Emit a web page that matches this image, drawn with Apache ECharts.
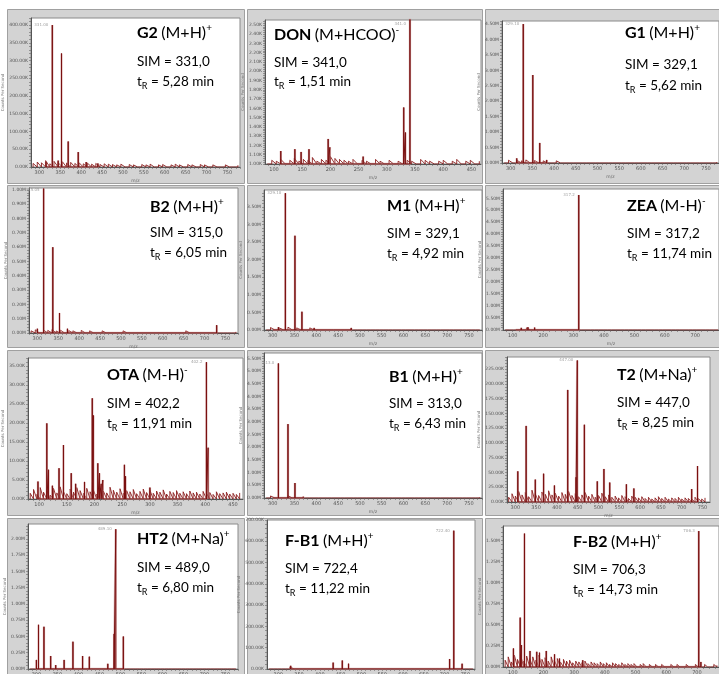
<!DOCTYPE html>
<html><head><meta charset="utf-8">
<script src="https://cdn.jsdelivr.net/npm/echarts@6/dist/echarts.min.js"></script>
<style>html,body{margin:0;padding:0;background:#fff}#c{width:719px;height:674px}</style>
</head><body><div id="c"></div><script>
// ---------------- DATA ----------------
const compoundNames = ['G2','DON','G1','B2','M1','ZEA','OTA','B1','T2','HT2','F-B1','F-B2'];
const adductIons = ['(M+H)','(M+HCOO)','(M+H)','(M+H)','(M+H)','(M-H)','(M-H)','(M+H)','(M+Na)','(M+Na)','(M+H)','(M+H)'];
const ionCharges = ['+','-','+','+','+','-','-','+','+','+','+','+'];
const simMasses = ['331,0','341,0','329,1','315,0','329,1','317,2','402,2','313,0','447,0','489,0','722,4','706,3'];
const retentionTimes = ['5,28','1,51','5,62','6,05','4,92','11,74','11,91','6,43','8,25','6,80','11,22','14,73'];
const peakTags = ['331.00','341.0','329.10','315.05','329.10','317.2','402.2','313.0','447.00','489.10','722.40','706.3'];
const intensityUnits = ['K','K','M','M','M','M','K','M','K','M','K','M'];

// m/z tick labels
const xTicks300to750 = [300,350,400,450,500,550,600,650,700,750];
const xTicks100to450 = [100,150,200,250,300,350,400,450];
const xTicks100to700 = [100,200,300,400,500,600,700];

// intensity tick labels
const g2YTicks = [0,50,100,150,200,250,300,350,400];
const donYTicks = [1.0,1.1,1.2,1.3,1.4,1.5,1.6,1.7,1.8,1.9,2.0,2.1,2.2,2.3,2.4,2.5];
const g1YTicks = [0,0.5,1.0,1.5,2.0,2.5,3.0,3.5,4.0,4.5];
const b2YTicks = [0,0.1,0.2,0.3,0.4,0.5,0.6,0.7,0.8,0.9,1.0];
const m1YTicks = [0,0.5,1.0,1.5,2.0,2.5,3.0,3.5];
const zeaYTicks = [0,0.5,1.0,1.5,2.0,2.5,3.0,3.5,4.0,4.5,5.0,5.5];
const otaYTicks = [0,5,10,15,20,25,30,35];
const b1YTicks = [0,0.5,1.0,1.5,2.0,2.5,3.0,3.5,4.0,4.5,5.0,5.5];
const t2YTicks = [0,25,50,75,100,125,150,175,200,225];
const ht2YTicks = [0,0.25,0.5,0.75,1.0,1.25,1.5,1.75,2.0];
const fb1YTicks = [0,100,200,300,400,500,600,700];
const fb2YTicks = [0,0.25,0.5,0.75,1.0,1.25,1.5];

// main peaks (m/z and intensity in panel unit)
const g2PeakMz = [316,331,345,353,369,393,412,440];
const g2PeakInt = [14,400,18,320,72,42,14,10];
const donPeakMz = [112,137,148,162,196,199,258,330,333,341];
const donPeakInt = [1.14,1.16,1.13,1.16,1.27,1.18,1.08,1.61,1.34,2.6];
const g1PeakMz = [314,329,351,367,383];
const g1PeakInt = [0.15,4.5,2.85,0.65,0.1];
const b2PeakMz = [300,315,337,353,372,729];
const b2PeakInt = [0.03,1.01,0.60,0.14,0.03,0.055];
const m1PeakMz = [300,313,329,351,367,395,440,480];
const m1PeakInt = [0.05,0.08,3.89,2.68,0.52,0.06,0.05,0.06];
const zeaPeakMz = [110,128,150,172,317];
const zeaPeakInt = [0.08,0.09,0.12,0.10,5.64];
const otaPeakMz = [98,114,117,124,136,144,158,166,182,196,198,206,209,212,215,254,256,300,402,405];
const otaPeakInt = [4.6,19.9,7.7,3.5,8.1,14.2,6.8,4,4.5,26.5,22,9.4,6.8,4,5,9,6,3,36,13.5];
const b1PeakMz = [300,313,335,351,370];
const b1PeakInt = [0.05,5.3,2.91,0.59,0.06];
const t2PeakMz = [306,326,348,368,394,426,446,449,466,497,513,527,567,585,724,738];
const t2PeakInt = [52,129,38,48,28,190,42,240,131,35,56,33,30,23,22,61];
const ht2PeakMz = [300,305,318,334,346,366,387,410,426,470,485,489,507];
const ht2PeakInt = [0.14,0.68,0.65,0.20,0.06,0.14,0.42,0.20,0.19,0.08,0.54,2.15,0.50];
const fb1PeakMz = [330,432,454,469,712,722,742];
const fb1PeakInt = [15,30,40,25,47,650,25];
const fb2PeakMz = [102,124,128,138,156,178,187,209,236,252,328,706,713];
const fb2PeakInt = [0.22,0.585,0.26,1.58,0.19,0.18,0.17,0.19,0.15,0.10,0.08,1.61,0.06];

// baseline noise, read as heights at regularly spaced m/z
const noiseStartMz = [285,88,285,285,285,75,84,285,284,285,278,75];
const noiseStepMz = [10,8,10,10,10,14,6,10,8,10,10,10];
const g2Noise = [10,14,12,18,9,16,12,15,11,13,10,12,9,11,8,10,7,9,8,7,6,8,5,7,6,5,7,6,8,5,6,7,5,6,8,6,5,7,6,5,7,6,5,6,4,5,6,5,4,5];
const donNoise = [1.02,1.04,1.03,1.05,1.02,1.04,1.06,1.03,1.05,1.04,1.07,1.03,1.05,1.04,1.08,1.06,1.05,1.04,1.03,1.05,1.02,1.04,1.03,1.02,1.05,1.03,1.02,1.04,1.02,1.03,1.02,1.04,1.03,1.02,1.05,1.04,1.03,1.02,1.03,1.04,1.02,1.03,1.05,1.02,1.03,1.04,1.02,1.03];
const g1Noise = [0.06,0.09,0.05,0.08,0.07,0.10,0.06,0.08,0.05,0.07,0.06,0.05,0.07,0.04,0.06,0.05,0.04,0.06,0.05,0.04,0.05,0.04,0.06,0.03,0.05,0.04,0.05,0.03,0.04,0.05,0.04,0.03,0.05,0.04,0.03,0.05,0.04,0.06,0.04,0.03,0.05,0.04,0.03,0.04,0.05,0.03,0.04,0.03,0.04,0.03];
const b2Noise = [0.015,0.022,0.012,0.02,0.018,0.025,0.014,0.02,0.012,0.017,0.015,0.012,0.018,0.01,0.015,0.012,0.01,0.015,0.012,0.01,0.012,0.01,0.015,0.008,0.012,0.01,0.012,0.008,0.01,0.012,0.01,0.008,0.012,0.01,0.008,0.012,0.01,0.015,0.01,0.008,0.012,0.01,0.008,0.01,0.012,0.008,0.01,0.008,0.01,0.008];
const m1Noise = [0.05,0.07,0.04,0.06,0.05,0.08,0.04,0.06,0.05,0.04,0.06,0.03,0.05,0.04,0.03,0.05,0.04,0.03,0.05,0.03,0.04,0.03,0.05,0.02,0.04,0.03,0.04,0.02,0.03,0.04,0.03,0.02,0.04,0.03,0.02,0.04,0.03,0.05,0.03,0.02,0.04,0.03,0.02,0.03,0.04,0.02,0.03,0.02,0.03,0.02];
const zeaNoise = [0.03,0.05,0.04,0.08,0.05,0.09,0.04,0.07,0.05,0.06,0.04,0.05,0.03,0.04,0.03,0.05,0.02,0.04,0.03,0.02,0.04,0.03,0.02,0.03,0.04,0.02,0.03,0.02,0.03,0.02,0.04,0.02,0.03,0.02,0.03,0.02,0.02,0.03,0.02,0.04,0.02,0.03,0.02,0.02,0.03,0.02,0.03,0.02,0.02,0.03,0.02];
const otaNoise = [1.5,2.5,1.2,3.0,1.8,2.2,1.0,2.8,1.6,3.2,2.0,1.4,2.6,1.8,3.0,2.2,1.5,2.8,1.9,2.4,1.3,2.9,2.1,1.6,3.1,2.3,1.8,2.7,1.5,2.2,1.9,2.5,1.4,2.0,2.6,1.7,2.3,1.5,2.1,1.8,2.4,1.3,2.0,1.7,2.2,1.5,1.9,1.4,2.1,1.6,1.8,1.3,2.0,1.5,1.7,1.2,1.9,1.4,1.6,1.8,1.3,1.5,1.2,1.6];
const b1Noise = [0.06,0.08,0.05,0.07,0.06,0.09,0.05,0.07,0.06,0.05,0.07,0.04,0.06,0.05,0.04,0.06,0.05,0.04,0.06,0.04,0.05,0.04,0.06,0.03,0.05,0.04,0.05,0.03,0.04,0.05,0.04,0.03,0.05,0.04,0.03,0.05,0.04,0.06,0.04,0.03,0.05,0.04,0.03,0.04,0.05,0.03,0.04,0.03,0.04,0.03];
const t2Noise = [8,14,10,18,12,16,9,20,14,11,17,13,19,12,15,10,16,13,18,11,14,9,12,16,10,13,8,11,15,9,12,8,10,7,11,9,6,10,8,7,9,6,8,5,7,9,6,8,5,7,6,8,5,7,6,5,8,6,5,7];
const ht2Noise = [0.02,0.03,0.015,0.025,0.02,0.03,0.018,0.025,0.02,0.015,0.022,0.012,0.02,0.015,0.012,0.02,0.015,0.01,0.018,0.012,0.015,0.01,0.018,0.008,0.012,0.01,0.015,0.008,0.01,0.012,0.01,0.008,0.012,0.01,0.008,0.012,0.01,0.015,0.01,0.008,0.012,0.01,0.008,0.01,0.012,0.008,0.01,0.008,0.01,0.008];
const fb1Noise = [6,9,5,8,7,10,6,8,5,7,6,5,7,4,6,5,4,6,5,4,5,4,6,3,5,4,5,3,4,5,4,3,5,4,3,5,4,6,4,3,5,4,3,4,5,3,4,3,4,3];
const fb2Noise = [0.08,0.12,0.06,0.14,0.09,0.15,0.07,0.13,0.1,0.12,0.08,0.14,0.09,0.11,0.07,0.12,0.08,0.1,0.06,0.09,0.07,0.08,0.05,0.07,0.06,0.05,0.07,0.04,0.06,0.05,0.04,0.06,0.04,0.05,0.03,0.05,0.04,0.03,0.05,0.03,0.04,0.03,0.04,0.02,0.03,0.04,0.02,0.03,0.02,0.03,0.02,0.03,0.02,0.02,0.03,0.02,0.03,0.02,0.02,0.03,0.02,0.02,0.03,0.02,0.02,0.03,0.02,0.02,0.03,0.02];

const peakMzLists = [g2PeakMz,donPeakMz,g1PeakMz,b2PeakMz,m1PeakMz,zeaPeakMz,otaPeakMz,b1PeakMz,t2PeakMz,ht2PeakMz,fb1PeakMz,fb2PeakMz];
const peakIntLists = [g2PeakInt,donPeakInt,g1PeakInt,b2PeakInt,m1PeakInt,zeaPeakInt,otaPeakInt,b1PeakInt,t2PeakInt,ht2PeakInt,fb1PeakInt,fb2PeakInt];
const noiseLists = [g2Noise,donNoise,g1Noise,b2Noise,m1Noise,zeaNoise,otaNoise,b1Noise,t2Noise,ht2Noise,fb1Noise,fb2Noise];
const xTickLists = [xTicks300to750,xTicks100to450,xTicks300to750,xTicks300to750,xTicks300to750,xTicks100to700,xTicks100to450,xTicks300to750,xTicks300to750,xTicks300to750,xTicks300to750,xTicks100to700];
const yTickLists = [g2YTicks,donYTicks,g1YTicks,b2YTicks,m1YTicks,zeaYTicks,otaYTicks,b1YTicks,t2YTicks,ht2YTicks,fb1YTicks,fb2YTicks];

// ---------------- LAYOUT ----------------
const layout = [
 {l:31,t:18,r:240,b:167, xMin:280,xMax:780, yMin:0,yMax:420, tx:137,ty:[33,62,82]},
 {l:265,t:20,r:481,b:164, xMin:84,xMax:467, yMin:1.0,yMax:2.553, tx:274,ty:[35,63,82]},
 {l:502,t:21,r:719,b:163, xMin:280,xMax:780, yMin:0,yMax:4.6, tx:625,ty:[33,65,86]},
 {l:29,t:188,r:238,b:333, xMin:280,xMax:780, yMin:0,yMax:1.014, tx:150,ty:[207,233,253]},
 {l:264,t:190,r:482,b:330, xMin:280,xMax:780, yMin:0,yMax:3.98, tx:387,ty:[206,234,254]},
 {l:503,t:189,r:719,b:330, xMin:68,xMax:778, yMin:0,yMax:5.89, tx:627,ty:[206,234,254]},
 {l:28,t:358,r:243,b:499, xMin:80,xMax:468, yMin:0,yMax:37.1, tx:107,ty:[375,404,424]},
 {l:264,t:353,r:482,b:498, xMin:280,xMax:780, yMin:0,yMax:5.71, tx:389,ty:[377,404,424]},
 {l:507,t:357,r:710,b:502, xMin:280,xMax:768, yMin:0,yMax:245.8, tx:617,ty:[375,403,423]},
 {l:28,t:524,r:238,b:669, xMin:280,xMax:780, yMin:0,yMax:2.23, tx:137,ty:[539,568,588]},
 {l:267,t:520,r:475,b:669, xMin:273,xMax:773, yMin:0,yMax:700, tx:285,ty:[541,569,589]},
 {l:503,t:526,r:719,b:667, xMin:68,xMax:772, yMin:0,yMax:1.67, tx:573,ty:[542,570,590]}
];
const nameX = [12,249,490];
const frameCols = [[7,244],[247,482],[485,722]];
const frameRows = [[9,183],[185,347],[350,515],[518,680]];

const FONT = 'Lato, "Open Sans", sans-serif';
const SMALLFONT = '"DejaVu Sans", sans-serif';
const RED = '#7a1010';

function subTicks(major, lo, hi, parts){
  const out = [];
  const step = (major[1]-major[0])/parts;
  let v = major[0];
  while (v - step >= lo - 1e-9) v -= step;
  for (; v <= hi + 1e-9; v += step) out.push(+v.toFixed(6));
  return out;
}

const grids=[], xAxes=[], yAxes=[], series=[], graphics=[];

frameRows.forEach(r=>frameCols.forEach(c=>{
  graphics.push({type:'rect', z:-10, shape:{x:c[0]+0.5,y:r[0]+0.5,width:c[1]-c[0],height:r[1]-r[0]},
    style:{fill:'#d3d3d3', stroke:'#a0a0a0', lineWidth:1}});
}));

layout.forEach((L,i)=>{
  const col = i%3;
  grids.push({left:L.l, top:L.t, width:L.r-L.l, height:L.b-L.t, show:true, outerBoundsMode:'none',
    backgroundColor:'#ffffff', borderColor:'#8a8a8a', borderWidth:1, containLabel:false});
  const unit = intensityUnits[i];
  xAxes.push({gridIndex:i, type:'value', min:L.xMin, max:L.xMax,
    axisLine:{show:true, onZero:false, lineStyle:{color:'#555', width:1}},
    axisTick:{show:true, customValues: subTicks(xTickLists[i], L.xMin, L.xMax, 5), length:2, lineStyle:{color:'#666', width:0.6}},
    axisLabel:{customValues: xTickLists[i], fontSize:5, color:'#555', margin:3, fontFamily:SMALLFONT},
    splitLine:{show:false},
    name:'m/z', nameLocation:'middle', nameGap:11, nameTextStyle:{fontSize:4.5, color:'#666', fontFamily:SMALLFONT}});
  yAxes.push({gridIndex:i, type:'value', min:L.yMin, max:L.yMax,
    axisLine:{show:true, lineStyle:{color:'#555', width:1}},
    axisTick:{show:true, customValues: subTicks(yTickLists[i], L.yMin, L.yMax, 5), length:2, lineStyle:{color:'#666', width:0.6}},
    axisLabel:{customValues: yTickLists[i], fontSize:4.5, color:'#555', margin:3, fontFamily:SMALLFONT,
      formatter: v => v.toFixed(2)+unit},
    splitLine:{show:false},
    name:'Counts Per Second', nameLocation:'middle', nameRotate:90, nameGap:L.l-nameX[col],
    nameTextStyle:{fontSize:4, color:'#777', fontFamily:SMALLFONT}});

  // noise trace: spikes rising from the baseline at each sampled m/z
  const noise = [];
  noiseLists[i].forEach((v,k)=>{ const mz = noiseStartMz[i]+k*noiseStepMz[i]; noise.push([mz, L.yMin],[mz, v]); });
  series.push({type:'line', xAxisIndex:i, yAxisIndex:i, data:noise, symbol:'none', silent:true,
    lineStyle:{color:'#8a1c1c', width:0.9}, z:2, animation:false});
  // stick peaks
  const sticks=[];
  peakMzLists[i].forEach((mz,k)=>{ sticks.push([mz,L.yMin],[mz,peakIntLists[i][k]],[mz,L.yMin]); });
  series.push({type:'line', xAxisIndex:i, yAxisIndex:i, data:sticks, symbol:'none', silent:true,
    lineStyle:{color:'rgba(200,140,140,0.55)', width:2.4}, z:2, animation:false});
  series.push({type:'line', xAxisIndex:i, yAxisIndex:i, data:sticks, symbol:'none', silent:true,
    lineStyle:{color:RED, width:1}, z:3, animation:false});
  // tag of the base peak
  const ints = peakIntLists[i];
  let m = 0; ints.forEach((v,k)=>{ if(v>ints[m]) m=k; });
  const tagY = Math.min(ints[m], L.yMax*0.985);
  series.push({type:'scatter', xAxisIndex:i, yAxisIndex:i, data:[[peakMzLists[i][m], tagY]], symbolSize:0, silent:true,
    label:{show:true, position:'left', distance:4, formatter:()=>peakTags[i], fontSize:4, color:'#888', fontFamily:SMALLFONT}, z:4, animation:false});

  // annotation texts
  const base = {fontFamily:FONT, color:'#111'};
  graphics.push({type:'text', x:L.tx, y:L.ty[0], z:50, style:{
    text:'{b|'+compoundNames[i]+'} {n|'+adductIons[i]+'}{sup|'+ionCharges[i]+'}',
    verticalAlign:'middle', align:'left',
    rich:{b:Object.assign({fontSize:16, fontWeight:'bold'},base), n:Object.assign({fontSize:16},base),
          sup:Object.assign({fontSize:10, padding:[0,0,11,0]},base)}}});
  graphics.push({type:'text', x:L.tx, y:L.ty[1], z:50, style:{
    text:'{n|SIM = '+simMasses[i]+'}', verticalAlign:'middle', align:'left',
    rich:{n:Object.assign({fontSize:13.5},base)}}});
  graphics.push({type:'text', x:L.tx, y:L.ty[2], z:50, style:{
    text:'{n|t}{sub|R}{n| = '+retentionTimes[i]+' min}', verticalAlign:'middle', align:'left',
    rich:{n:Object.assign({fontSize:13.5},base), sub:Object.assign({fontSize:9, padding:[8,0,0,0]},base)}}});
});

const chart = echarts.init(document.getElementById('c'), null, {renderer:'canvas'});
chart.setOption({animation:false, backgroundColor:'#ffffff', grid:grids, xAxis:xAxes, yAxis:yAxes, series:series, graphic:graphics});
</script></body></html>
